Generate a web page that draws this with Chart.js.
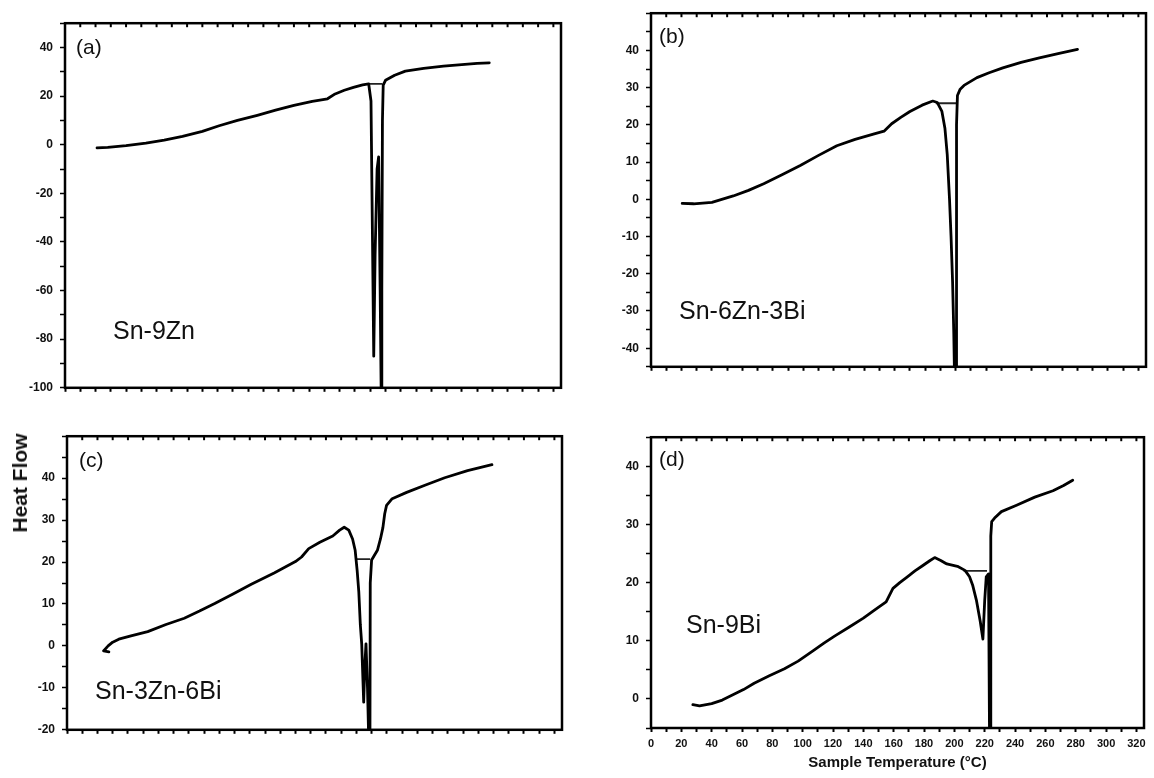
<!DOCTYPE html>
<html>
<head>
<meta charset="utf-8">
<script src="https://cdn.jsdelivr.net/npm/chart.js"></script>
<style>
  body { margin: 0; background: #fff; width: 1154px; height: 778px; position: relative; overflow: hidden; font-family: "Liberation Sans", Arial, sans-serif; }
  canvas { position: absolute; }
  #ylab { position: absolute; left: 20px; top: 483px; transform: translate(-50%, -50%) rotate(-90deg); font-weight: bold; font-size: 21px; white-space: nowrap; color: #111; }
</style>
</head>
<body>
<canvas id="chartA" width="570" height="393" style="left:5px;top:9px"></canvas>
<canvas id="chartB" width="569" height="382" style="left:591px;top:-1px"></canvas>
<canvas id="chartC" width="569" height="322" style="left:7px;top:422px"></canvas>
<canvas id="chartD" width="567" height="350" style="left:591px;top:423px"></canvas>
<div id="ylab">Heat Flow</div>

<script>
// x axis (°C), shared by the four panels
const xLabels = [0, 20, 40, 60, 80, 100, 120, 140, 160, 180, 200, 220, 240, 260, 280, 300, 320];

// (a) Sn-9Zn
const tempA = [21, 28, 40, 53, 65, 77, 90, 101, 113, 126, 138, 150, 162, 172, 177, 183, 189, 195, 199, 200.5, 201.5, 202.3, 203.2, 204.5, 205.5, 206.5, 207.2, 207.6, 208, 208.5, 210, 216, 223, 235, 248, 260, 270, 278];
const flowA = [-1.3, -1.1, -0.4, 0.7, 1.9, 3.4, 5.5, 7.8, 10, 12.1, 14.2, 16.2, 17.8, 18.9, 20.9, 22.4, 23.6, 24.6, 25, 18, -40, -87, -45, -10, -5, -60, -104, -60, 10, 24.5, 26.5, 28.6, 30.3, 31.4, 32.3, 33, 33.5, 33.7];
const baseTA = [199, 208];
const baseFA = [25, 25];
const yLabelsA = [40, 20, 0, -20, -40, -60, -80, -100];

// (b) Sn-6Zn-3Bi
const tempB = [20.5, 28, 40, 54, 64, 74, 86, 98, 110, 122, 134, 146, 153, 158, 164, 170, 178, 185, 188, 191, 193, 194.5, 196, 197, 198, 198.8, 199.3, 200.3, 200.6, 201.2, 203, 205.5, 214, 222, 231, 243, 255, 268, 280];
const flowB = [-1.1, -1.2, -0.8, 0.9, 2.4, 4.2, 6.6, 9.1, 11.8, 14.4, 16.1, 17.5, 18.3, 20.3, 22, 23.6, 25.3, 26.4, 26, 23.6, 19, 12, 0, -10, -22, -36, -48, -48, 20, 27.9, 29.6, 30.6, 32.7, 34, 35.3, 36.8, 38, 39.2, 40.3];
const baseTB = [187, 201];
const baseFB = [25.8, 25.8];
const yLabelsB = [40, 30, 20, 10, 0, -10, -20, -30, -40];

// (c) Sn-3Zn-6Bi
const tempC = [27.5, 24, 27, 30, 34, 42, 53, 65, 77, 87, 97, 109, 121, 136, 150, 154, 158.7, 166, 174.5, 179, 182, 185, 187.5, 189.2, 190.5, 191.6, 192.6, 193.5, 194.8, 195.5, 196.3, 197.3, 198.2, 198.9, 199.1, 200, 203.8, 205.8, 207.4, 208.6, 209.8, 213.5, 223, 235, 248, 263, 279];
const flowC = [-1.4, -1.2, 0, 0.9, 1.6, 2.4, 3.4, 5.1, 6.6, 8.3, 10.1, 12.4, 14.7, 17.4, 20.1, 21.2, 23.2, 24.7, 26.2, 27.6, 28.3, 27.6, 25.5, 22.8, 18, 12.8, 5, 0.5, -13.4, -5, 0.5, -10, -24, -24, 15, 20.5, 22.8, 25.5, 28.2, 31.5, 33.5, 35.1, 36.6, 38.3, 40.1, 41.8, 43.2];
const baseTC = [189.2, 199];
const baseFC = [20.7, 20.7];
const yLabelsC = [40, 30, 20, 10, 0, -10, -20];

// (d) Sn-9Bi
const tempD = [27.6, 32, 40, 47, 54, 61, 68, 78, 88, 97, 107, 114, 121, 131, 140, 148, 155, 159.5, 164, 169, 174, 179, 184, 187, 191, 195, 202, 207, 210, 212, 214.5, 217, 218.8, 220, 221, 222.5, 223.2, 223.8, 224, 224.6, 226.5, 231, 241, 253, 265, 272, 278];
const flowD = [-1, -1.2, -0.8, -0.2, 0.7, 1.6, 2.7, 4, 5.2, 6.5, 8.3, 9.6, 10.8, 12.4, 13.9, 15.4, 16.7, 19, 20, 21, 22, 22.9, 23.8, 24.3, 23.8, 23.2, 22.8, 22.1, 21, 19.6, 17, 13.4, 10.3, 17, 21, 21.5, -8, -8, 28, 30.5, 31.1, 32.2, 33.3, 34.7, 35.8, 36.7, 37.6];
const baseTD = [206, 221.5];
const baseFD = [22, 22];
const yLabelsD = [40, 30, 20, 10, 0];

const FONT = '"Liberation Sans", Arial, sans-serif';

const framePlugin = {
    id: 'frame',
    afterDatasetsDraw(chart) {
        const { ctx, chartArea: a, scales } = chart;
        ctx.save();
        ctx.strokeStyle = '#000';
        ctx.lineWidth = 2.5;
        ctx.strokeRect(a.left, a.top, a.right - a.left, a.bottom - a.top);
        // little ticks on the top edge, same places as the bottom ones
        ctx.lineWidth = 2;
        scales.x.ticks.forEach(t => {
            const px = scales.x.getPixelForValue(t.value);
            ctx.beginPath();
            ctx.moveTo(px, a.top);
            ctx.lineTo(px, a.top + 4);
            ctx.stroke();
        });
        ctx.restore();
    }
};

const textPlugin = {
    id: 'panelText',
    afterDraw(chart, args, opts) {
        const { ctx, chartArea: a } = chart;
        ctx.save();
        ctx.fillStyle = '#111';
        ctx.textBaseline = 'middle';
        ctx.font = '21px ' + FONT;
        ctx.fillText(opts.tag, a.left + opts.tagAt[0], a.top + opts.tagAt[1]);
        ctx.font = '25px ' + FONT;
        ctx.fillText(opts.name, a.left + opts.nameAt[0], a.top + opts.nameAt[1]);
        ctx.restore();
    }
};

const steps = (lo, hi, step) => {
    const out = [];
    for (let v = lo; v <= hi + 1e-9; v += step) out.push(v);
    return out;
};

const makePanel = (id, temps, flows, baseT, baseF, yLabels, cfg) => {
    const pts = temps.map((t, i) => ({ x: t, y: flows[i] }));
    const base = baseT.map((t, i) => ({ x: t, y: baseF[i] }));
    const yTickVals = steps(cfg.yMin, cfg.yMax, cfg.yStep);
    const xTickVals = steps(0, 320, 10);

    return new Chart(document.getElementById(id), {
        type: 'scatter',
        data: {
            datasets: [
                { data: pts, showLine: true, borderColor: '#000', borderWidth: 2.8, borderJoinStyle: 'round', borderCapStyle: 'round', pointRadius: 0, tension: 0 },
                { data: base, showLine: true, borderColor: '#222', borderWidth: 1.8, pointRadius: 0 }
            ]
        },
        options: {
            responsive: false,
            animation: false,
            events: [],
            layout: { padding: { top: 8, right: 14, left: 0, bottom: 0 } },
            plugins: {
                legend: { display: false },
                tooltip: { enabled: false },
                panelText: cfg.text
            },
            scales: {
                x: {
                    type: 'linear',
                    min: 0,
                    max: 325,
                    afterBuildTicks: s => { s.ticks = xTickVals.map(v => ({ value: v })); },
                    afterFit: s => { s.height = cfg.xh; },
                    border: { display: false },
                    grid: { drawOnChartArea: false, tickLength: 4, tickWidth: 2, color: '#000' },
                    ticks: {
                        display: cfg.xTickLabels,
                        autoSkip: false,
                        maxRotation: 0,
                        minRotation: 0,
                        padding: 5,
                        color: '#111',
                        font: { family: FONT, size: 11, weight: 'bold' },
                        callback: v => xLabels.includes(v) ? v : ''
                    },
                    title: {
                        display: cfg.xTickLabels,
                        text: 'Sample Temperature (°C)',
                        color: '#111',
                        font: { family: FONT, size: 15, weight: 'bold' },
                        padding: { top: 0, bottom: 1 }
                    }
                },
                y: {
                    min: cfg.yMin,
                    max: cfg.yMax,
                    afterBuildTicks: s => { s.ticks = yTickVals.map(v => ({ value: v })); },
                    afterFit: s => { s.width = 60; },
                    border: { display: false },
                    grid: { drawOnChartArea: false, tickLength: 5, tickWidth: 1.5, color: '#000' },
                    ticks: {
                        autoSkip: false,
                        padding: 7,
                        color: '#111',
                        font: { family: FONT, size: 12, weight: 'bold' },
                        callback: v => yLabels.includes(v) ? v : ''
                    }
                }
            }
        },
        plugins: [framePlugin, textPlugin]
    });
};

makePanel('chartA', tempA, flowA, baseTA, baseFA, yLabelsA, {
    yMin: -100, yMax: 50, yStep: 10, xh: 12, xTickLabels: false,
    text: { tag: '(a)', tagAt: [11, 25], name: 'Sn-9Zn', nameAt: [48, 309] }
});
makePanel('chartB', tempB, flowB, baseTB, baseFB, yLabelsB, {
    yMin: -45, yMax: 50, yStep: 5, xh: 12, xTickLabels: false,
    text: { tag: '(b)', tagAt: [8, 24], name: 'Sn-6Zn-3Bi', nameAt: [28, 299] }
});
makePanel('chartC', tempC, flowC, baseTC, baseFC, yLabelsC, {
    yMin: -20, yMax: 50, yStep: 5, xh: 12, xTickLabels: false,
    text: { tag: '(c)', tagAt: [12, 25], name: 'Sn-3Zn-6Bi', nameAt: [28, 256] }
});
makePanel('chartD', tempD, flowD, baseTD, baseFD, yLabelsD, {
    yMin: -5, yMax: 45, yStep: 5, xh: 45, xTickLabels: true,
    text: { tag: '(d)', tagAt: [8, 23], name: 'Sn-9Bi', nameAt: [35, 189] }
});
</script>
</body>
</html>
